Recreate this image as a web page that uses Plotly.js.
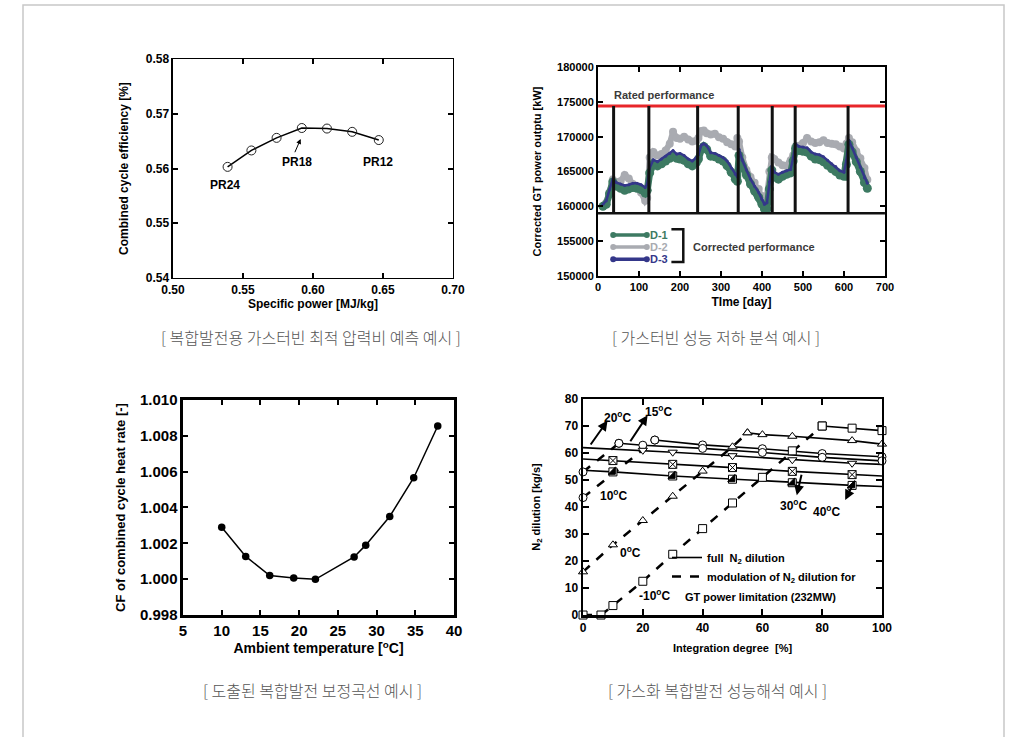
<!DOCTYPE html>
<html><head><meta charset="utf-8">
<script src="https://cdn.plot.ly/plotly-3.0.1.min.js"></script>
<style>html,body{margin:0;padding:0;background:#fff;}#chart{width:1020px;height:737px;}</style>
</head><body><div id="chart"></div>
<script>
// ---------- Chart 1: optimum pressure ratio ----------
const specificPower = [0.539, 0.556, 0.574, 0.592, 0.610, 0.628, 0.647];
const ccEfficiency  = [0.5603, 0.5633, 0.5656, 0.5674, 0.5673, 0.5667, 0.5652];
const prLabels = ['PR24', 'PR18', 'PR12'];

// ---------- Chart 2: GT performance degradation ----------
const days = [12,20,28,36,45,55,65,75,85,95,105,115,120,126,135,145,155,165,175,183,192,200,210,220,230,240,245,252,258,265,275,285,295,305,315,325,335,340,344,352,362,372,382,392,400,406,412,418,424,430,440,450,460,470,476,482,490,500,510,520,530,540,550,560,570,580,590,600,606,612,620,630,640,650,657];
const d1 = [160000,160300,161800,163500,162900,162600,162300,162500,162700,162600,162400,161900,162300,164800,166100,165800,166100,166500,166900,167200,166900,166800,166600,166100,165800,166300,166800,168200,168600,168200,167200,167100,166800,166500,165800,164900,163900,163600,167300,165800,164500,163200,162200,161300,160300,159600,159600,162500,165200,164200,163900,164300,164600,164800,166500,168300,168000,167900,167800,167200,166800,166700,166400,165900,165400,165000,164500,164300,166000,168900,167800,166400,165000,163400,162600];
const d2 = [160000,160500,162000,163800,163500,163600,164500,164000,163200,162800,162000,160800,161200,167000,167800,167300,167500,168000,169000,170700,169800,169700,170000,169600,169300,169400,169800,170800,170900,170500,170300,170400,169900,169700,169200,168900,168600,169800,169300,167000,165200,164200,163400,162500,161500,160800,161500,165000,167000,166800,166300,165900,165800,166600,167300,168600,168700,169100,169800,169300,169100,169200,169500,169100,169000,168900,168600,168300,169000,169800,169200,167900,166900,165500,163800];
const d3 = [160300,160800,162400,163900,163400,163200,163000,163100,163300,163300,163100,162700,163200,165500,166700,166400,166800,167200,167600,168000,167500,167600,167300,166800,166500,167000,167400,168800,169000,168700,167700,167600,167300,167000,166500,165500,164600,164200,168200,166600,165200,163900,162900,162000,161000,160300,160500,163500,165800,164900,164600,164900,165100,165300,167000,169000,168600,168500,168400,167800,167500,167400,167100,166600,166100,165700,165100,164900,166600,169500,168400,167000,165600,164100,163300];
const seriesNames = ['D-1', 'D-2', 'D-3'];
const ratedPerformance = 174400;
const baselineLevel = 159000;
const maintenanceDays = [38, 124, 243, 342, 425, 481, 610];

// ---------- Chart 3: correction curve ----------
const ambientTemp = [10.0, 13.1, 16.2, 19.3, 22.1, 27.1, 28.6, 31.7, 34.8, 37.9];
const cfHeatRate  = [1.0029, 1.00127, 1.0002, 1.00006, 0.99999, 1.00124, 1.0019, 1.0035, 1.00566, 1.00855];

// ---------- Chart 4: N2 dilution ----------
const tempLabels = ['-10', '0', '10', '15', '20', '30', '40'];
const modX_m10 = [0, 6, 10, 20, 30, 40, 50, 60, 70, 80];
const modY_m10 = [0, 0, 3.5, 12.5, 22.5, 32, 41.5, 51, 60.8, 70];
const fullX_m10 = [80, 90, 100];
const fullY_m10 = [70, 69.2, 68.3];
const modX_0 = [0, 10, 20, 30, 40, 50, 55];
const modY_0 = [16, 26, 35, 44, 53.3, 62.3, 67.5];
const fullX_0 = [55, 60, 70, 90, 100];
const fullY_0 = [67.5, 66.8, 66.2, 64.6, 63.3];
const modX_10 = [0, 24];
const modY_10 = [43.5, 64.8];
const fullX_10 = [24, 40, 60, 80, 100];
const fullY_10 = [64.8, 63.0, 61.6, 59.8, 58.6];
const modX_15 = [0, 12];
const modY_15 = [53, 63.6];
const fullX_15 = [12, 20, 40, 60, 80, 100];
const fullY_15 = [63.6, 62.9, 61.7, 60.2, 58.4, 57.1];
const fullX_20 = [0, 20, 30, 50, 70, 90, 100];
const fullY_20 = [62.0, 61.0, 60.3, 59.0, 57.5, 56.2, 55.8];
const fullX_30 = [0, 10, 30, 50, 70, 90, 100];
const fullY_30 = [57.8, 57.2, 55.8, 54.6, 53.2, 52.0, 51.5];
const fullX_40 = [0, 10, 30, 50, 70, 90, 100];
const fullY_40 = [53.6, 53.0, 51.5, 50.3, 49.0, 48.0, 47.6];

const captions = [
  '[ 복합발전용 가스터빈 최적 압력비 예측 예시 ]',
  '[ 가스터빈 성능 저하 분석 예시 ]',
  '[ 도출된 복합발전 보정곡선 예시 ]',
  '[ 가스화 복합발전 성능해석 예시 ]'
];

// ---------- styling helpers ----------
const FONT = 'Liberation Sans, Arial, Helvetica, sans-serif';
const KFONT = 'Noto Sans CJK KR, Noto Sans, sans-serif';
function bf(size, color) { return {family: FONT, size: size, color: color || '#000', weight: 'bold'}; }
function axis(o) {
  return Object.assign({
    showline: true, linecolor: '#000', linewidth: 2, mirror: 'ticks',
    ticks: 'inside', ticklen: 5, tickwidth: 2, tickcolor: '#000',
    showgrid: false, zeroline: false, fixedrange: true
  }, o);
}
const traces = [];

// Chart 1
traces.push({x: specificPower, y: ccEfficiency, xaxis: 'x', yaxis: 'y', mode: 'lines+markers',
  line: {color: '#000', width: 1.5},
  marker: {symbol: 'circle-open', size: 9, color: '#222', line: {width: 1}},
  showlegend: false, hoverinfo: 'skip', cliponaxis: false});

// Chart 2 data
const c2colors = ['#3d7a62', '#a9abb1', '#34378a'];
const c2widths = [7, 6, 2.5];
const c2msize = [9, 8, 3];
traces.push({x: days, y: d2, xaxis: 'x2', yaxis: 'y2', mode: 'lines+markers', name: seriesNames[1], showlegend: false,
  line: {color: c2colors[1], width: c2widths[1]}, marker: {color: c2colors[1], size: c2msize[1]}, hoverinfo: 'skip'});
traces.push({x: days, y: d1, xaxis: 'x2', yaxis: 'y2', mode: 'lines+markers', name: seriesNames[0], showlegend: false,
  line: {color: c2colors[0], width: c2widths[0]}, marker: {color: c2colors[0], size: c2msize[0]}, hoverinfo: 'skip'});
traces.push({x: days, y: d3, xaxis: 'x2', yaxis: 'y2', mode: 'lines+markers', name: seriesNames[2], showlegend: false,
  line: {color: c2colors[2], width: c2widths[2]}, marker: {color: c2colors[2], size: c2msize[2]}, hoverinfo: 'skip'});
// rated line, baseline, maintenance verticals
traces.push({x: [0, 700], y: [ratedPerformance, ratedPerformance], xaxis: 'x2', yaxis: 'y2', mode: 'lines',
  line: {color: '#e8262a', width: 3}, showlegend: false, hoverinfo: 'skip'});
traces.push({x: [0, 700], y: [baselineLevel, baselineLevel], xaxis: 'x2', yaxis: 'y2', mode: 'lines',
  line: {color: '#111', width: 2.5}, showlegend: false, hoverinfo: 'skip'});
const vx = [], vy = [];
maintenanceDays.forEach(d => { vx.push(d, d, null); vy.push(baselineLevel, ratedPerformance, null); });
traces.push({x: vx, y: vy, xaxis: 'x2', yaxis: 'y2', mode: 'lines',
  line: {color: '#111', width: 3}, showlegend: false, hoverinfo: 'skip'});
// chart 2 legend (drawn inside the plot, like the original)
const leg2X = [37, 119];
const leg2Y = [155900, 154150, 152400];
const leg2Order = [0, 1, 2];
leg2Order.forEach(i => {
  traces.push({x: leg2X, y: [leg2Y[i], leg2Y[i]], xaxis: 'x2', yaxis: 'y2', mode: 'lines+markers', showlegend: false,
    line: {color: c2colors[i], width: 3.5}, marker: {color: c2colors[i], size: 6}, hoverinfo: 'skip', cliponaxis: false});
});

// Chart 3
traces.push({x: ambientTemp, y: cfHeatRate, xaxis: 'x3', yaxis: 'y3', mode: 'lines+markers',
  line: {color: '#000', width: 1.5}, marker: {color: '#000', size: 7.5},
  showlegend: false, hoverinfo: 'skip', cliponaxis: false});

// Chart 4
function modTrace(x, y, sym) {
  return {x: x, y: y, xaxis: 'x4', yaxis: 'y4', mode: 'lines+markers', cliponaxis: false,
    line: {color: '#000', width: 2.5, dash: 'dash'},
    marker: {symbol: sym, size: 8, color: '#fff', line: {color: '#000', width: 1}},
    showlegend: false, hoverinfo: 'skip'};
}
function fullLine(x, y) {
  return {x: x, y: y, xaxis: 'x4', yaxis: 'y4', mode: 'lines', cliponaxis: false,
    line: {color: '#000', width: 1.6}, showlegend: false, hoverinfo: 'skip'};
}
function fullMarkers(x, y, sym, color) {
  return {x: x, y: y, xaxis: 'x4', yaxis: 'y4', mode: 'markers', cliponaxis: false,
    marker: {symbol: sym, size: 8, color: color || '#fff', line: {color: '#000', width: 1}},
    showlegend: false, hoverinfo: 'skip'};
}
traces.push(fullLine(fullX_20, fullY_20));
traces.push(fullLine(fullX_30, fullY_30));
traces.push(fullLine(fullX_40, fullY_40));
traces.push(fullLine(fullX_15, fullY_15));
traces.push(fullLine(fullX_10, fullY_10));
traces.push(fullLine(fullX_0, fullY_0));
traces.push(fullLine(fullX_m10, fullY_m10));
traces.push(modTrace(modX_m10, modY_m10, 'square'));
traces.push(modTrace(modX_0, modY_0, 'triangle-up'));
traces.push(modTrace(modX_10, modY_10, 'circle'));
traces.push(modTrace(modX_15, modY_15, 'circle'));
traces.push(fullMarkers(fullX_m10, fullY_m10, 'square'));
traces.push(fullMarkers(fullX_0, fullY_0, 'triangle-up'));
traces.push(fullMarkers(fullX_10, fullY_10, 'circle'));
traces.push(fullMarkers(fullX_15, fullY_15, 'circle'));
traces.push(fullMarkers(fullX_20.slice(1, 6), fullY_20.slice(1, 6), 'triangle-down'));
traces.push(fullMarkers(fullX_30.slice(1, 6), fullY_30.slice(1, 6), 'square-x'));
traces.push(fullMarkers(fullX_40.slice(1, 6), fullY_40.slice(1, 6), 'square'));
traces.push(fullMarkers(fullX_40.slice(1, 6), fullY_40.slice(1, 6), 'triangle-se', '#000'));
// legend entries for chart 4
traces.push({x: [null], y: [null], xaxis: 'x4', yaxis: 'y4', mode: 'lines', legend: 'legend2',
  name: 'full  N<sub>2</sub> dilution', line: {color: '#000', width: 1.6}, hoverinfo: 'skip'});
traces.push({x: [null], y: [null], xaxis: 'x4', yaxis: 'y4', mode: 'lines', legend: 'legend2',
  name: 'modulation of N<sub>2</sub> dilution for', line: {color: '#000', width: 2.5, dash: 'dash'}, hoverinfo: 'skip'});

const ann = [];
// chart 1 labels
ann.push({xref: 'x', yref: 'y', x: 0.5371, y: 0.5570, text: prLabels[0], showarrow: false, font: bf(12)});
ann.push({xref: 'x', yref: 'y', x: 0.5884, y: 0.5612, text: prLabels[1], showarrow: false, font: bf(12)});
ann.push({xref: 'x', yref: 'y', x: 0.6464, y: 0.5612, text: prLabels[2], showarrow: false, font: bf(12)});
ann.push({xref: 'x', yref: 'y', x: 0.5912, y: 0.5654, axref: 'x', ayref: 'y', ax: 0.5866, ay: 0.5627,
  text: '', showarrow: true, arrowhead: 2, arrowsize: 1, arrowwidth: 1, arrowcolor: '#000'});
// chart 2 labels
ann.push({xref: 'x2', yref: 'y2', x: 35, y: 176050, xanchor: 'left', text: 'Rated performance', showarrow: false, font: bf(11, '#3a3a3a')});
ann.push({xref: 'x2', yref: 'y2', x: 228, y: 154200, xanchor: 'left', text: 'Corrected performance', showarrow: false, font: bf(11, '#3a3a3a')});
leg2Order.forEach(i => ann.push({xref: 'x2', yref: 'y2', x: 122, y: leg2Y[i], xanchor: 'left', yanchor: 'middle', text: seriesNames[i],
  showarrow: false, font: bf(11, c2colors[i])}));
// chart 4 labels
function tlabel(x, y, t) { return {xref: 'x4', yref: 'y4', x: x, y: y, text: t + '<sup>o</sup>C', showarrow: false, font: bf(12)}; }
function tarrow(hx, hy, tx, ty) { return {xref: 'x4', yref: 'y4', x: hx, y: hy, axref: 'x4', ayref: 'y4', ax: tx, ay: ty,
  text: '', showarrow: true, arrowhead: 2, arrowsize: 1, arrowwidth: 2, arrowcolor: '#000'}; }
ann.push(tlabel(11.4, 73.5, tempLabels[4]));
ann.push(tlabel(25.1, 75.5, tempLabels[3]));
ann.push(tlabel(10.3, 44.4, tempLabels[2]));
ann.push(tlabel(15.8, 23.5, tempLabels[1]));
ann.push(tlabel(24.0, 7.4, tempLabels[0]));
ann.push(tlabel(70.4, 40.7, tempLabels[5]));
ann.push(tlabel(81.6, 38.5, tempLabels[6]));
ann.push(tarrow(8.2, 72.0, 2.2, 62.6));
ann.push(tarrow(21.6, 74.0, 15.5, 63.8));
ann.push(tarrow(71.5, 44.4, 73.2, 52.5));
ann.push(tarrow(87.7, 42.6, 90.5, 48.8));
ann.push({xref: 'x4', yref: 'y4', x: 33.4, y: 6.7, xanchor: 'left', text: 'GT power limitation (232MW)', showarrow: false, font: bf(11)});
// captions
const capPos = [[311, 337], [716, 337], [312, 690], [717, 690]];
captions.forEach((c, i) => ann.push({xref: 'paper', yref: 'paper', x: capPos[i][0] / 1020, y: 1 - capPos[i][1] / 737,
  xanchor: 'center', yanchor: 'middle',
  text: c, showarrow: false, font: {family: KFONT, size: 16, color: '#555', weight: 300}}));

const shapes = [
  {type: 'rect', xref: 'paper', yref: 'paper', x0: 23 / 1020, x1: 1004 / 1020, y0: -0.02, y1: 1 - 5 / 737,
   line: {color: '#c8c8c8', width: 1.5}, fillcolor: 'rgba(0,0,0,0)'},
  {type: 'path', xref: 'x2', yref: 'y2', path: 'M 179 156700 L 208 156700 L 208 152000 L 179 152000',
   line: {color: '#111', width: 2.5}}
];

const layout = {
  width: 1020, height: 737, margin: {l: 0, r: 0, t: 0, b: 0},
  paper_bgcolor: '#fff', plot_bgcolor: '#fff',
  font: {family: FONT, size: 12, color: '#000'},
  xaxis: axis({domain: [0.1696, 0.4441], anchor: 'y', range: [0.5, 0.7], dtick: 0.05, tick0: 0.5, tickformat: '.2f',
    tickfont: bf(12), title: {text: 'Specific power [MJ/kg]', font: bf(12), standoff: 0}, linewidth: 1.5}),
  yaxis: axis({domain: [0.6228, 0.9199], anchor: 'x', range: [0.54, 0.58], dtick: 0.01, tickformat: '.2f',
    tickfont: bf(12), title: {text: 'Combined cycle efficiency [%]', font: bf(12), standoff: 14}, linewidth: 1.5}),
  xaxis2: axis({domain: [0.5863, 0.8676], anchor: 'y2', range: [0, 700], dtick: 100,
    tickfont: bf(11), title: {text: 'TIme [day]', font: bf(12), standoff: 5}}),
  yaxis2: axis({domain: [0.6255, 0.9091], anchor: 'x2', range: [150000, 180000], dtick: 5000, tickformat: 'd',
    tickfont: bf(11), title: {text: 'Corrected GT power outptu [kW]', font: bf(11), standoff: 13}}),
  xaxis3: axis({domain: [0.1794, 0.4451], anchor: 'y3', range: [5, 40], dtick: 5,
    tickfont: bf(15), linewidth: 2.5, title: {text: 'Ambient temperature [<sup>o</sup>C]', font: bf(14), standoff: 3}}),
  yaxis3: axis({domain: [0.1655, 0.4573], anchor: 'x3', range: [0.998, 1.010], dtick: 0.002, tickformat: '.3f',
    tickfont: bf(15), linewidth: 2.5, title: {text: 'CF of combined cycle heat rate [-]', font: bf(13), standoff: 12}}),
  xaxis4: axis({domain: [0.5716, 0.8647], anchor: 'y4', range: [0, 100], dtick: 20,
    tickfont: bf(12), linewidth: 2.5, ticklen: 6, title: {text: 'Integration degree  [%]', font: bf(11), standoff: 11}}),
  yaxis4: axis({domain: [0.1655, 0.4586], anchor: 'x4', range: [0, 80], dtick: 10,
    tickfont: bf(12), linewidth: 2.5, ticklen: 6, title: {text: 'N<sub>2</sub> dilution [kg/s]', font: bf(11), standoff: 22}}),
  showlegend: true,
  legend2: {x: 667 / 1020, y: 1 - 543 / 737, xanchor: 'left', yanchor: 'top', bgcolor: 'rgba(0,0,0,0)',
    font: bf(11), tracegroupgap: 0, itemwidth: 30},
  annotations: ann,
  shapes: shapes
};

Plotly.newPlot('chart', traces, layout, {staticPlot: true, displayModeBar: false});
</script>
</body></html>
